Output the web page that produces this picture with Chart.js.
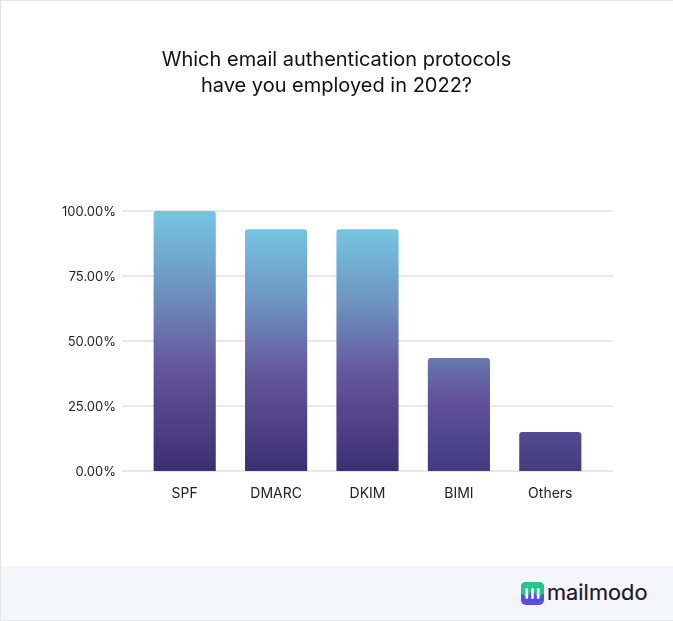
<!DOCTYPE html>
<html>
<head>
<meta charset="utf-8">
<title>Email authentication protocols</title>
<script src="https://cdn.jsdelivr.net/npm/chart.js@4"></script>
<style>
  html, body { margin: 0; padding: 0; background: #fff; }
  #wrap { position: relative; width: 673px; height: 621px; overflow: hidden; }
  #title { position: absolute; left: 0; width: 673px; top: 46px; text-align: center; font: 400 20px/26px "Inter", sans-serif; color: #111; }
  #frame { position: absolute; inset: 0; border: solid #e6e6e6; border-width: 1px 0 1px 1px; pointer-events: none; }
  #footer { position: absolute; left: 1px; right: 0; top: 566px; bottom: 1px; background: #f5f6fc; }
  #logo { position: absolute; left: 521px; top: 582px; }
  #brand { position: absolute; left: 547px; top: 578px; font: 400 21.8px/28px "Inter", sans-serif; color: #1b1b23; -webkit-text-stroke: 0.2px #1b1b23; }
</style>
</head>
<body>
<div id="wrap">
  <canvas id="chart" width="673" height="621"></canvas>
  <div id="title"></div>
  <div id="footer"></div>
  <div id="frame"></div>
  <svg id="logo" width="23" height="23" viewBox="0 0 23 23">
    <defs>
      <clipPath id="round"><rect width="23" height="23" rx="5"/></clipPath>
    </defs>
    <g clip-path="url(#round)">
      <rect width="23" height="23" fill="#5b4de2"/>
      <path d="M0 0H23V12C20 12 19 15 17 15C15 15 14 9 11.5 9C9 9 8 15 6 15C4 15 3 12 0 12Z" fill="#23c98b"/>
    </g>
    <g fill="#fff">
      <rect x="4.5" y="6" width="2.6" height="11" rx="1.3"/>
      <rect x="10.2" y="6" width="2.6" height="11" rx="1.3"/>
      <rect x="15.9" y="6" width="2.6" height="11" rx="1.3"/>
    </g>
  </svg>
  <div id="brand">mailmodo</div>
</div>
<script>
const titleLines = ['Which email authentication protocols', 'have you employed in 2022?'];
const categories = ['SPF', 'DMARC', 'DKIM', 'BIMI', 'Others'];
const shares = [100, 93, 93, 43.5, 15];
const yTicks = [0, 25, 50, 75, 100];

const fontName = 'Inter, sans-serif';
const fullBar = [[0, '#74c6e1'], [0.3, '#6e94c0'], [0.6, '#64559d'], [1, '#3b2f73']];
const barStops = [
  fullBar,
  fullBar,
  fullBar,
  [[0, '#6579ad'], [0.3, '#64569e'], [1, '#423a80']],
  [[0, '#524a90'], [1, '#443b80']]
];

document.getElementById('title').innerHTML = titleLines.join('<br>');

// each bar has its own fade, from its top down to the zero line
function barFill(c) {
  const area = c.chart.chartArea;
  if (!area || c.type !== 'data') return '#64559d';
  const y = c.chart.scales.y;
  const grad = c.chart.ctx.createLinearGradient(0, y.getPixelForValue(c.raw), 0, y.getPixelForValue(0));
  barStops[c.dataIndex].forEach(s => grad.addColorStop(s[0], s[1]));
  return grad;
}

// gridlines run past the plot on both sides, the built-in ones cannot do that
const wideGrid = {
  id: 'wideGrid',
  beforeDatasetsDraw(chart) {
    const { ctx, chartArea, scales } = chart;
    ctx.save();
    ctx.strokeStyle = '#e9e9e9';
    ctx.lineWidth = 2;
    yTicks.forEach(t => {
      const py = scales.y.getPixelForValue(t);
      ctx.beginPath();
      ctx.moveTo(chartArea.left - 17, py);
      ctx.lineTo(chartArea.right + 17, py);
      ctx.stroke();
    });
    ctx.restore();
  }
};

new Chart(document.getElementById('chart'), {
  type: 'bar',
  data: {
    labels: categories,
    datasets: [{
      data: shares,
      backgroundColor: barFill,
      barPercentage: 0.68,
      categoryPercentage: 1,
      borderRadius: { topLeft: 3, topRight: 3, bottomLeft: 0, bottomRight: 0 },
      borderSkipped: false
    }]
  },
  options: {
    responsive: false,
    animation: false,
    layout: { padding: { top: 211, left: 20, right: 77, bottom: 90 } },
    plugins: {
      legend: { display: false },
      tooltip: { enabled: false },
      title: { display: false }
    },
    scales: {
      x: {
        grid: { display: false },
        border: { display: false },
        ticks: { color: '#222', font: { family: fontName, size: 14 }, padding: 6, maxRotation: 0 },
        afterFit(s) { s.height = 60; }
      },
      y: {
        min: 0,
        max: 100,
        grid: { display: false },
        border: { display: false },
        afterBuildTicks(s) { s.ticks = yTicks.map(v => ({ value: v })); },
        ticks: {
          color: '#222',
          font: { family: fontName, size: 13 },
          padding: 15,
          labelOffset: 1,
          callback: v => v.toFixed(2) + '%'
        },
        afterFit(s) { s.width = 119; }
      }
    }
  },
  plugins: [wideGrid]
});
</script>
</body>
</html>
